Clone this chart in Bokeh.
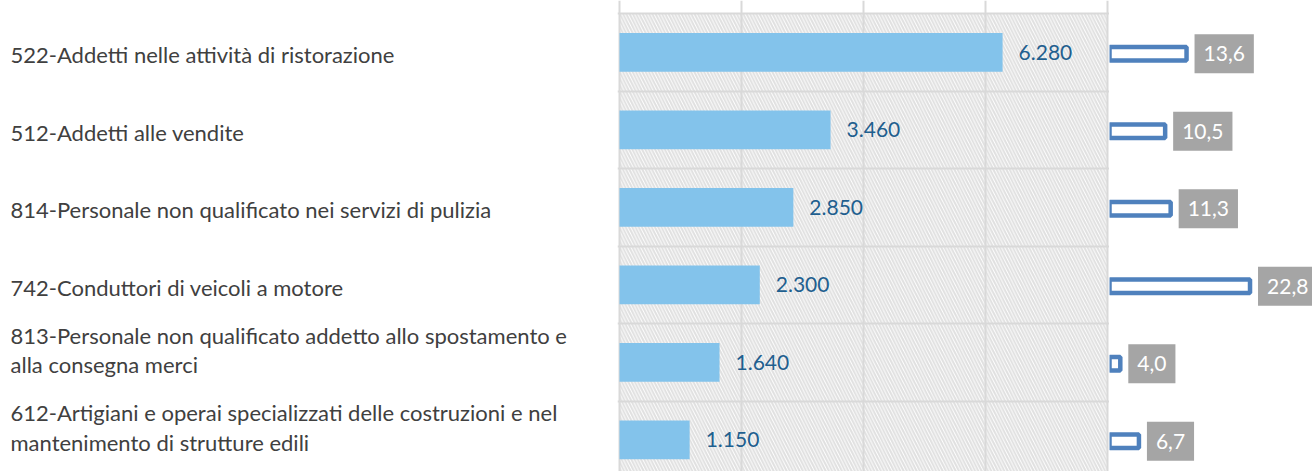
from bokeh.plotting import figure
from bokeh.layouts import row
from bokeh.models import Range1d, FixedTicker, ColumnDataSource
from bokeh.core.properties import value
from bokeh.embed import file_html
from bokeh.resources import INLINE

# ---------------- data ----------------
categories = [
    "522-Addetti nelle attività di ristorazione",
    "512-Addetti alle vendite",
    "814-Personale non qualificato nei servizi di pulizia",
    "742-Conduttori di veicoli a motore",
    "813-Personale non qualificato addetto allo spostamento e\nalla consegna merci",
    "612-Artigiani e operai specializzati delle costruzioni e nel\nmantenimento di strutture edili",
]
counts = [6280, 3460, 2850, 2300, 1640, 1150]
shares = [13.6, 10.5, 11.3, 22.8, 4.0, 6.7]
x_ticks = [0, 2000, 4000, 6000, 8000]

count_labels = [f"{v:,}".replace(",", ".") for v in counts]
share_labels = [f"{v:.1f}".replace(".", ",") for v in shares]

n = len(categories)
ypos = [n - i - 0.5 for i in range(n)]
row_lines = list(range(1, n + 1))

# ---------------- layout constants ----------------
TOTAL_W = 1312
H = 471
ROW_PX = 77.5
TOP_PX = 13
y_end = n + TOP_PX / ROW_PX
y_start = y_end - H / ROW_PX

FONT = "Lato"

src = ColumnDataSource(dict(cat=categories, y=ypos, cnt=counts, cntl=count_labels,
                            sh=shares, shl=share_labels))

# ---------------- left labels ----------------
LW = 617
left = figure(width=LW, height=H, x_range=Range1d(0, LW), y_range=Range1d(y_start, y_end),
              output_backend="svg", toolbar_location=None,
              x_axis_location=None, y_axis_location=None, min_border=0,
              outline_line_color=None)
left.grid.visible = False
left.text(x=0, y="y", text="cat", source=src, x_offset=10, y_offset=16,
          text_font=value(FONT), text_font_size="22px", text_color="#404040",
          text_align="left", text_baseline="bottom", text_line_height=1.1)

# ---------------- main bars ----------------
MW = 492
span_px = MW - 4
ux = (x_ticks[-1] - x_ticks[0]) / span_px
main = figure(width=MW, height=H,
              x_range=Range1d(x_ticks[0] - 2 * ux, x_ticks[-1] + 2 * ux),
              y_range=Range1d(y_start, y_end),
              output_backend="svg", toolbar_location=None,
              x_axis_location=None, y_axis_location=None, min_border=0,
              outline_line_color=None)
main.quad(left=x_ticks[0], right=x_ticks[-1], bottom=y_start, top=n,
          fill_color="white", line_color=None,
          hatch_pattern="left_diagonal_line", hatch_color="#E0E0E0",
          hatch_scale=6.5, hatch_weight=2, level="image")
main.xgrid.ticker = FixedTicker(ticks=x_ticks)
main.ygrid.ticker = FixedTicker(ticks=row_lines)
main.grid.grid_line_color = "#D9D9D9"
main.grid.grid_line_width = 2
main.hbar(y="y", left=0, right="cnt", height=0.5, source=src,
          fill_color="#83C3EB", line_color=None)
main.text(x="cnt", y="y", text="cntl", source=src, x_offset=16,
          text_font=value(FONT), text_font_size="21px", text_color="#1F5F8F",
          text_align="left", text_baseline="middle")

# ---------------- right outlined bars ----------------
RW = TOTAL_W - LW - MW
S = 6.9          # px per unit
ZERO_LEFT = 16.8 # zero lies this many px left of the frame
r_start = ZERO_LEFT / S
shift = 1.5 / ROW_PX
right = figure(width=RW, height=H,
               x_range=Range1d(r_start, r_start + RW / S),
               y_range=Range1d(y_start + shift, y_end + shift),
               output_backend="svg", toolbar_location=None,
               x_axis_location=None, y_axis_location=None, min_border=0,
               outline_line_color=None)
right.grid.visible = False
right.hbar(y="y", left=0, right="sh", height=0.174, source=src,
           fill_color="white", line_color="#4F81BD", line_width=4.5)
right.text(x="sh", y="y", text="shl", source=src, x_offset=8,
           text_font=value(FONT), text_font_size="21px", text_color="white",
           text_align="left", text_baseline="middle",
           background_fill_color="#A5A5A5", padding=(9, 12))

layout = row(left, main, right)
open("out.html", "w").write(file_html(layout, INLINE))
